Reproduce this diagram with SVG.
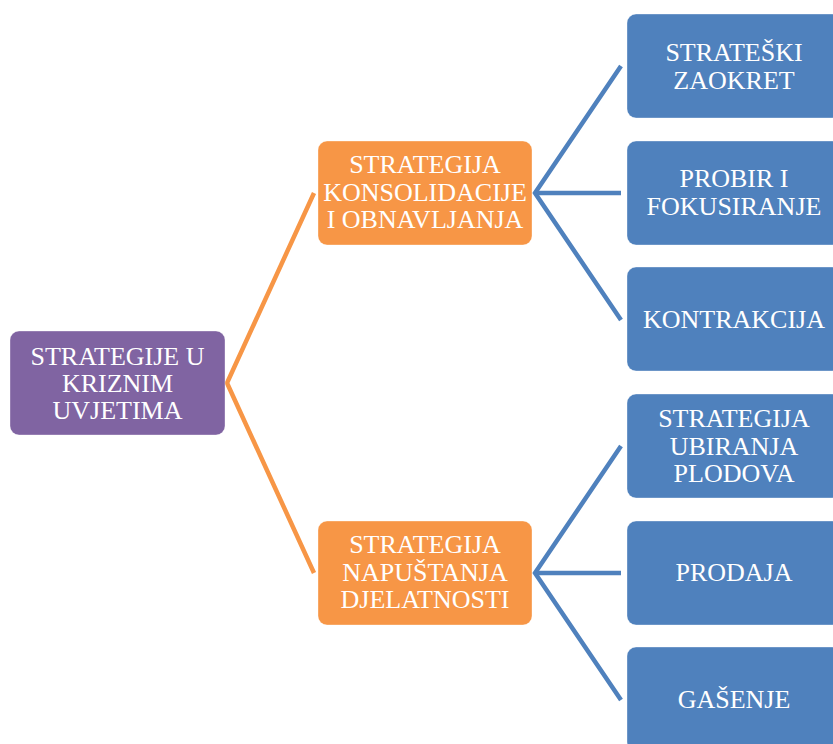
<svg xmlns="http://www.w3.org/2000/svg" width="833" height="744" viewBox="0 0 833 744">
<style>
.box{stroke:#ffffff;stroke-opacity:0.35;stroke-width:1}
.root{fill:#8064A2}
.mid{fill:#F79646}
.leaf{fill:#4F81BD}
.t{font-family:"Liberation Serif","Times New Roman",serif;font-size:26px;fill:#ffffff;text-anchor:middle}
.co{stroke:#F79646;stroke-width:4.5;fill:none}
.cb{stroke:#4F81BD;stroke-width:4.5;fill:none}
</style>
<rect width="833" height="744" fill="#ffffff"/>
<g id="connectors">
<polyline class="co" points="314,193 227,383 314,573"/>
<polyline class="cb" points="621,66 535,193 621,320"/>
<line class="cb" x1="535" y1="193" x2="621" y2="193"/>
<polyline class="cb" points="621,446 535,573 621,700"/>
<line class="cb" x1="535" y1="573" x2="621" y2="573"/>
</g>
<g id="root">
<rect class="box root" x="10" y="331" width="215" height="104" rx="9"/>
<text class="t" x="117.5" y="365">STRATEGIJE U</text>
<text class="t" x="117.5" y="392">KRIZNIM</text>
<text class="t" x="117.5" y="419">UVJETIMA</text>
</g>
<g id="konsolidacija">
<rect class="box mid" x="318" y="141" width="214" height="104" rx="9"/>
<text class="t" x="425" y="173">STRATEGIJA</text>
<text class="t" x="425" y="200.5">KONSOLIDACIJE</text>
<text class="t" x="425" y="228">I OBNAVLJANJA</text>
</g>
<g id="napustanje">
<rect class="box mid" x="318" y="521" width="214" height="104" rx="9"/>
<text class="t" x="425" y="553">STRATEGIJA</text>
<text class="t" x="425" y="580.5">NAPUŠTANJA</text>
<text class="t" x="425" y="608">DJELATNOSTI</text>
</g>
<g id="zaokret">
<rect class="box leaf" x="627" y="14" width="214" height="104" rx="9"/>
<text class="t" x="734" y="61">STRATEŠKI</text>
<text class="t" x="734" y="88.5">ZAOKRET</text>
</g>
<g id="probir">
<rect class="box leaf" x="627" y="141" width="214" height="104" rx="9"/>
<text class="t" x="734" y="187">PROBIR I</text>
<text class="t" x="734" y="214.5">FOKUSIRANJE</text>
</g>
<g id="kontrakcija">
<rect class="box leaf" x="627" y="267" width="214" height="104" rx="9"/>
<text class="t" x="734" y="328">KONTRAKCIJA</text>
</g>
<g id="ubiranje">
<rect class="box leaf" x="627" y="394" width="214" height="104" rx="9"/>
<text class="t" x="734" y="427">STRATEGIJA</text>
<text class="t" x="734" y="454.5">UBIRANJA</text>
<text class="t" x="734" y="482">PLODOVA</text>
</g>
<g id="prodaja">
<rect class="box leaf" x="627" y="521" width="214" height="104" rx="9"/>
<text class="t" x="734" y="581">PRODAJA</text>
</g>
<g id="gasenje">
<rect class="box leaf" x="627" y="647" width="214" height="104" rx="9"/>
<text class="t" x="734" y="708">GAŠENJE</text>
</g>
</svg>
